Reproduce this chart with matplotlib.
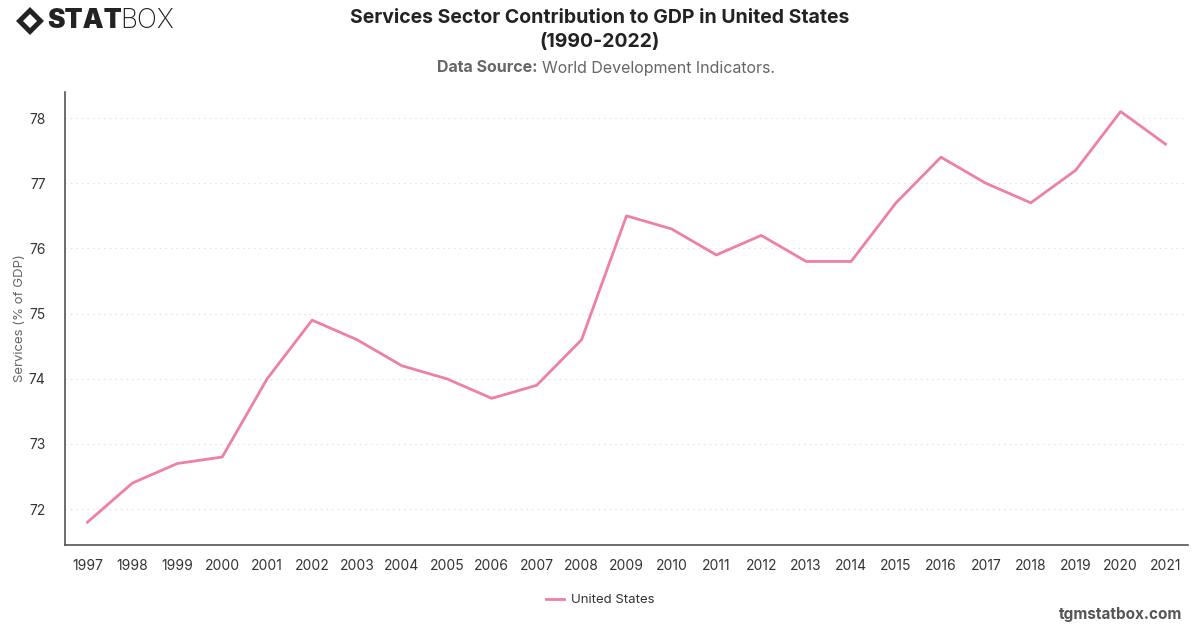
import matplotlib.pyplot as plt
from matplotlib.patches import Polygon

# data
years = [1997, 1998, 1999, 2000, 2001, 2002, 2003, 2004, 2005, 2006, 2007, 2008,
         2009, 2010, 2011, 2012, 2013, 2014, 2015, 2016, 2017, 2018, 2019, 2020, 2021]
services = [71.8, 72.4, 72.7, 72.8, 74.0, 74.9, 74.6, 74.2, 74.0, 73.7, 73.9, 74.6,
            76.5, 76.3, 75.9, 76.2, 75.8, 75.8, 76.7, 77.4, 77.0, 76.7, 77.2, 78.1, 77.6]
y_ticks = [72, 73, 74, 75, 76, 77, 78]

plt.rcParams['font.family'] = ['Inter', 'DejaVu Sans']

fig = plt.figure(figsize=(12, 6.28), dpi=100)
ax = fig.add_axes([65 / 1200, 1 - 545 / 628, 1123 / 1200, 453 / 628])

ax.plot(years, services, color='#ee7fa8', lw=2, label='United States')

ax.set_xlim(years[0] - 0.5, years[-1] + 0.5)
ax.set_ylim(71.45, 78.4)
ax.set_xticks(years)
ax.set_xticklabels([str(y) for y in years])
ax.set_yticks(y_ticks)

ax.grid(axis='y', linestyle=(0, (1, 4)), color='#d9d9d9', lw=0.8)
ax.set_axisbelow(True)
for s in ['top', 'right']:
    ax.spines[s].set_visible(False)
for s in ['left', 'bottom']:
    ax.spines[s].set_color('#555555')
    ax.spines[s].set_linewidth(1.2)

ax.tick_params(axis='both', length=0, labelsize=10, colors='#333333')
ax.tick_params(axis='x', pad=10)
ax.tick_params(axis='y', pad=14)
ax.set_ylabel('Services (% of GDP)', fontsize=9.5, color='#666666', labelpad=2)

# titles
fig.text(0.5, 1 - 18 / 628, 'Services Sector Contribution to GDP in United States',
         ha='center', va='center', fontsize=14, fontweight='bold', color='#222222')
fig.text(0.5, 1 - 42 / 628, '(1990-2022)', ha='center', va='center',
         fontsize=14, fontweight='bold', color='#222222')
fig.text(538 / 1200, 1 - 68 / 628, 'Data Source:', ha='right', va='center',
         fontsize=11.5, fontweight='bold', color='#666666')
fig.text(542 / 1200, 1 - 68 / 628, 'World Development Indicators.', ha='left',
         va='center', fontsize=11.5, color='#666666')

# legend, centred on the figure
fig.legend(loc='center', bbox_to_anchor=(0.5, 1 - 600 / 628), frameon=False,
           fontsize=9.5, handlelength=1.4, handletextpad=0.5, labelcolor='#333333')

# footer
fig.text(0.985, 1 - 614 / 628, 'tgmstatbox.com', ha='right', va='center',
         fontsize=11, fontweight='bold', color='#555555')

# logo
cx, cy, r = 30 / 1200, 1 - 21 / 628, 14 / 1200
ry = 14 / 628
fig.patches.append(Polygon([(cx - r, cy), (cx, cy + ry), (cx + r, cy), (cx, cy - ry)],
                           closed=True, transform=fig.transFigure,
                           facecolor='#222222', edgecolor='none'))
r2, ry2 = 7 / 1200, 7 / 628
fig.patches.append(Polygon([(cx - r2, cy), (cx, cy + ry2), (cx + r2, cy), (cx, cy - ry2)],
                           closed=True, transform=fig.transFigure,
                           facecolor='white', edgecolor='none'))
fig.text(47 / 1200, cy, 'STAT', ha='left', va='center', fontsize=19,
         fontweight='black', color='#222222')
fig.text(120 / 1200, cy, 'BOX', ha='left', va='center', fontsize=19,
         fontweight='light', color='#222222')

plt.savefig('out.png', dpi=100)
